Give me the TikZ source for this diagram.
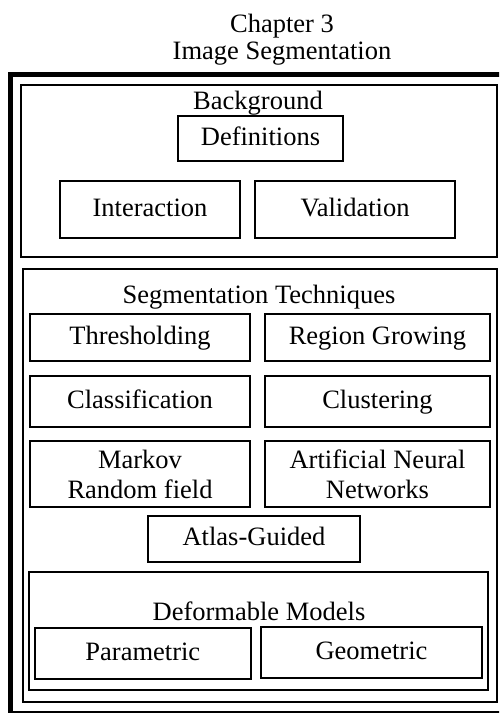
\documentclass[tikz,border=0pt]{standalone}
\usepackage{fontspec}
\setmainfont{Liberation Serif}
\begin{document}
\begin{tikzpicture}[x=1pt,y=-1pt,
  lbl/.style={inner sep=0pt,font=\fontsize{26.5}{30}\selectfont,align=center},
  oneline/.style={text height=18.5pt,text depth=5.5pt},
  box/.style={draw,line width=1.7pt,inner sep=0pt,font=\fontsize{26.5}{30}\selectfont,align=center},
  frame/.style={draw,line width=1.7pt,inner sep=0pt}]
\useasboundingbox (0,0) rectangle (499,713);
\clip (0,0) rectangle (499,713);

% page frame: heavy left and top rules, light bottom rule
\draw[line width=5pt] (10.5,720) -- (10.5,74.5) -- (510,74.5);
\draw[line width=1.7pt] (8,712) -- (510,712);

% chapter heading
\node[lbl,oneline] (chap) at (282,26) {Chapter 3};
\node[lbl,oneline] (title) at (282,53) {Image Segmentation};

% background section
\node[frame,minimum width=476pt,minimum height=172pt] (bg) at (258.7,171) {};
\node[lbl,oneline] (bgt) at (258,103) {Background};
\node[box,oneline,minimum width=165pt,minimum height=45pt] (def) at (260.5,138.5) {Definitions};
\node[box,oneline,minimum width=180pt,minimum height=57pt] (inter) at (150,209.5) {Interaction};
\node[box,oneline,minimum width=200pt,minimum height=57pt] (valid) at (355,209.5) {Validation};

% segmentation techniques section
\node[frame,minimum width=474.3pt,minimum height=433pt] (st) at (259.85,485.5) {};
\node[lbl,oneline] (stt) at (259,297) {Segmentation Techniques};
\node[box,oneline,minimum width=220pt,minimum height=47pt] (thr) at (140,337.5) {Thresholding};
\node[box,oneline,minimum width=225pt,minimum height=47pt] (rg) at (377.5,337.5) {Region Growing};
\node[box,oneline,minimum width=220pt,minimum height=51pt] (cls) at (140,401.5) {Classification};
\node[box,oneline,minimum width=225pt,minimum height=51pt] (clu) at (377.5,401.5) {Clustering};
\node[box,minimum width=220pt,minimum height=66pt] (mrf) at (140,474) {Markov\\Random field};
\node[box,minimum width=225pt,minimum height=66pt] (ann) at (377.5,474) {Artificial Neural\\Networks};
\node[box,oneline,minimum width=212pt,minimum height=46pt] (atlas) at (254,539) {Atlas-Guided};

% deformable models subsection
\node[frame,minimum width=458.7pt,minimum height=118pt] (dm) at (258.65,631) {};
\node[lbl,oneline] (dmt) at (259,614) {Deformable Models};
\node[box,oneline,minimum width=215.7pt,minimum height=51pt] (par) at (142.85,653.5) {Parametric};
\node[box,oneline,minimum width=221pt,minimum height=51pt] (geo) at (371.5,652.5) {Geometric};
\end{tikzpicture}
\end{document}
